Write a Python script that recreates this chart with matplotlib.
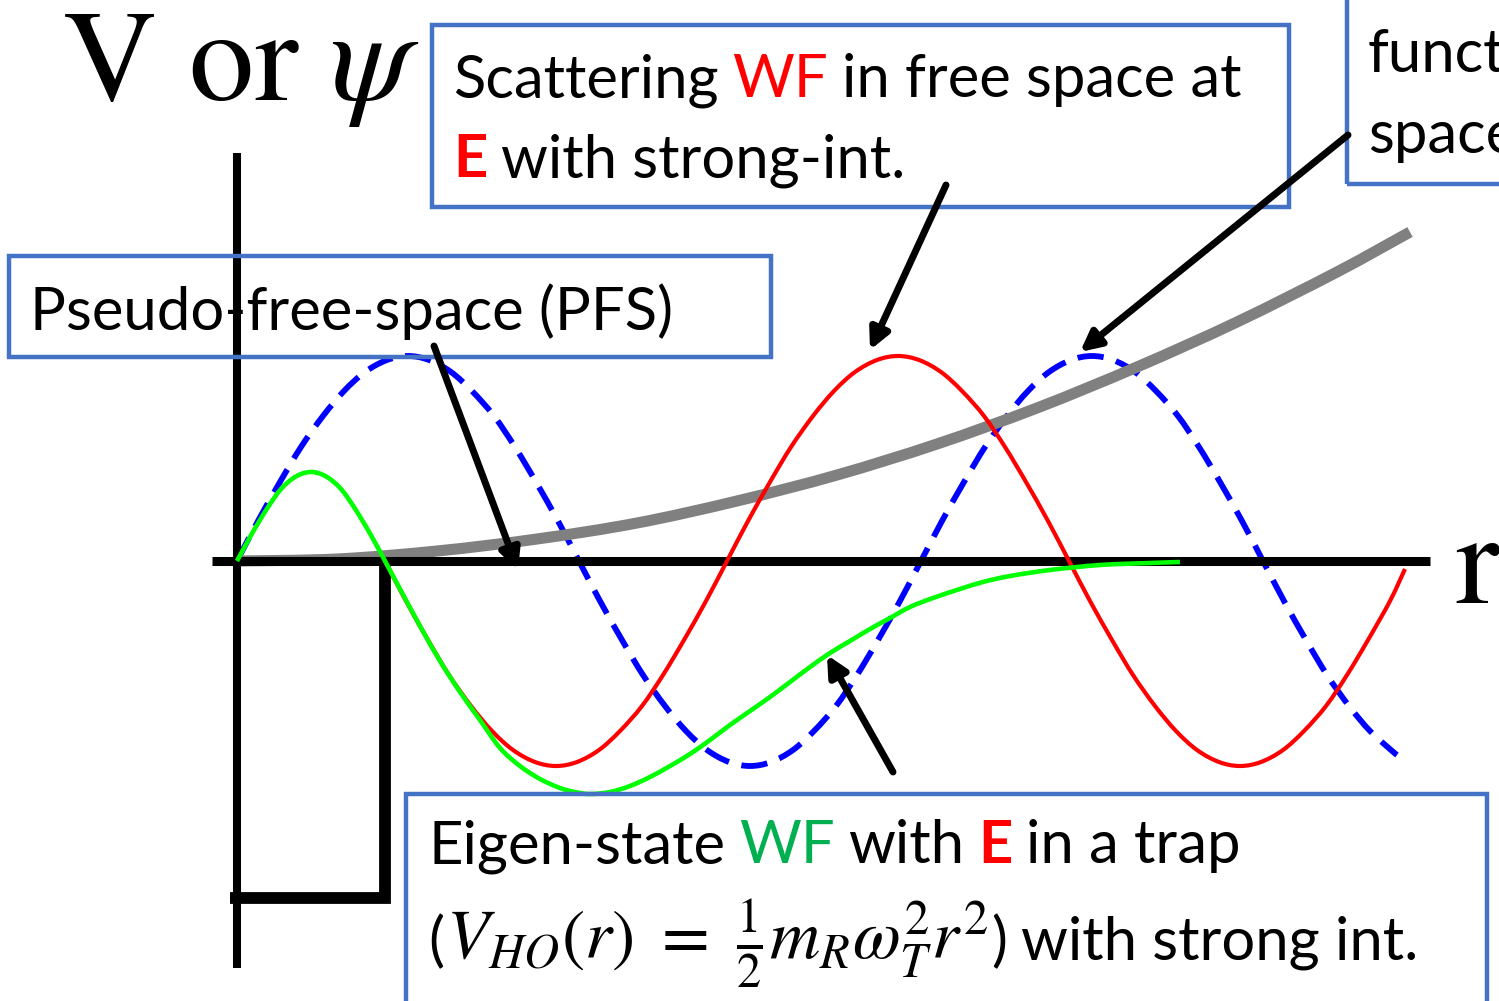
import numpy as np
import matplotlib
matplotlib.use("Agg")
import matplotlib.pyplot as plt
from matplotlib.patches import Rectangle, PathPatch
from matplotlib.path import Path

plt.rcParams["mathtext.fontset"] = "stix"
SANS = ["Lato", "DejaVu Sans"]

# harmonic trap V_HO(r) (grey)
R_HO = [0.0, 1.0, 2.0, 3.0, 4.0, 5.0, 6.0, 7.0, 8.0, 9.0, 10.0, 11.0, 11.73]
V_HO = [0.0, 0.02, 0.10, 0.22, 0.38, 0.60, 0.86, 1.17, 1.53, 1.94, 2.39, 2.89, 3.29]

# short-range square well
R_SQ = [-0.07, 1.48, 1.48]
V_SQ = [-3.37, -3.37, 0.0]

# free wave function (blue dashed)
R_FREE = [0.0, 0.21, 0.43, 0.64, 0.86, 1.07, 1.28, 1.50, 1.71, 1.92, 2.14, 2.35, 2.57,
          2.78, 2.99, 3.21, 3.42, 3.63, 3.85, 4.06, 4.28, 4.49, 4.70, 4.92, 5.13, 5.34,
          5.56, 5.77, 5.99, 6.20, 6.41, 6.63, 6.84, 7.05, 7.27, 7.48, 7.70, 7.91, 8.12,
          8.34, 8.55, 8.76, 8.98, 9.19, 9.41, 9.62, 9.83, 10.05, 10.26, 10.47, 10.69,
          10.90, 11.12, 11.33, 11.54, 11.60]
PSI_FREE = [0.0, 0.40, 0.79, 1.14, 1.45, 1.70, 1.89, 2.01, 2.05, 2.01, 1.89, 1.70, 1.45,
            1.14, 0.79, 0.40, 0.0, -0.40, -0.79, -1.14, -1.45, -1.70, -1.89, -2.01, -2.05,
            -2.01, -1.89, -1.70, -1.45, -1.14, -0.79, -0.40, 0.0, 0.40, 0.79, 1.14, 1.45,
            1.70, 1.89, 2.01, 2.05, 2.01, 1.89, 1.70, 1.45, 1.14, 0.79, 0.40, 0.0, -0.40,
            -0.79, -1.14, -1.45, -1.70, -1.89, -1.94]

# scattering wave function with strong interaction (red)
R_SCAT = [1.48, 1.69, 1.91, 2.12, 2.34, 2.55, 2.76, 2.98, 3.19, 3.40, 3.62, 3.83, 4.05,
          4.26, 4.47, 4.69, 4.90, 5.11, 5.33, 5.54, 5.76, 5.97, 6.18, 6.40, 6.61, 6.82,
          7.04, 7.25, 7.47, 7.68, 7.89, 8.11, 8.32, 8.53, 8.75, 8.96, 9.18, 9.39, 9.60,
          9.82, 10.03, 10.24, 10.46, 10.67, 10.89, 11.10, 11.31, 11.53, 11.68]
PSI_SCAT = [0.0, -0.40, -0.79, -1.14, -1.45, -1.70, -1.89, -2.01, -2.05, -2.01, -1.89,
            -1.70, -1.45, -1.14, -0.79, -0.40, 0.0, 0.40, 0.79, 1.14, 1.45, 1.70, 1.89,
            2.01, 2.05, 2.01, 1.89, 1.70, 1.45, 1.14, 0.79, 0.40, 0.0, -0.40, -0.79,
            -1.14, -1.45, -1.70, -1.89, -2.01, -2.05, -2.01, -1.89, -1.70, -1.45, -1.14,
            -0.79, -0.40, -0.08]

# eigen-state in the trap (green)
R_EIG = [0.0, 0.15, 0.30, 0.44, 0.59, 0.74, 0.89, 1.04, 1.18, 1.33, 1.48, 1.63, 1.83,
         2.03, 2.23, 2.43, 2.63, 2.83, 3.03, 3.23, 3.38, 3.53, 3.73, 3.93, 4.13, 4.33,
         4.53, 4.73, 4.93, 5.13, 5.33, 5.53, 5.73, 5.93, 6.13, 6.33, 6.53, 6.73, 6.96,
         7.23, 7.46, 7.73, 8.13, 8.63, 9.13, 9.43]
PSI_EIG = [0.0, 0.275, 0.523, 0.720, 0.846, 0.89, 0.846, 0.720, 0.523, 0.275, 0.0, -0.28,
           -0.65, -1.00, -1.31, -1.59, -1.87, -2.05, -2.18, -2.27, -2.31, -2.33, -2.31,
           -2.25, -2.16, -2.05, -1.93, -1.79, -1.64, -1.50, -1.36, -1.21, -1.06, -0.92,
           -0.80, -0.68, -0.57, -0.46, -0.37, -0.28, -0.21, -0.15, -0.09, -0.04, -0.02,
           -0.01]

BOX_BLUE = "#4472C4"


def smooth_path(xs, ys):
    """Catmull-Rom curve through the points, as cubic Bezier segments."""
    p = np.column_stack([xs, ys]).astype(float)
    verts, codes = [p[0]], [Path.MOVETO]
    for i in range(len(p) - 1):
        p0 = p[max(i - 1, 0)]; p1 = p[i]; p2 = p[i + 1]; p3 = p[min(i + 2, len(p) - 1)]
        verts += [p1 + (p2 - p0) / 6, p2 - (p3 - p1) / 6, p2]
        codes += [Path.CURVE4] * 3
    return Path(verts, codes)


def curve(xs, ys, **kw):
    ax.add_patch(PathPatch(smooth_path(xs, ys), fill=False, **kw))


fig = plt.figure(figsize=(14.99, 10.01), dpi=100)
ax = fig.add_axes([0, 0, 1, 1])
ax.set_xlim(-2.37, 12.62)
ax.set_ylim(-4.40, 5.61)
ax.axis("off")

# axes of the sketch
ax.plot([-0.25, 11.93], [0, 0], color="black", lw=6.5, solid_capstyle="butt", zorder=4)
ax.plot([0, 0], [-4.07, 4.08], color="black", lw=5.8, solid_capstyle="butt", zorder=4)
ax.plot(R_SQ, V_SQ, color="black", lw=8.5, solid_capstyle="butt",
        solid_joinstyle="miter", zorder=4)

curve(R_FREE, PSI_FREE, ec="#0000FF", lw=4.2, ls=(0, (4.5, 2.2)), capstyle="butt", zorder=2)
curve(R_HO, V_HO, ec="#808080", lw=8.0, capstyle="butt", zorder=3)
curve(R_SCAT, PSI_SCAT, ec="#FF0000", lw=3.0, zorder=5)
curve(R_EIG, PSI_EIG, ec="#00FF00", lw=3.3, zorder=6)

# annotation arrows (tail, tip)
arrows = [((1.97, 2.15), (2.81, -0.09)),
          ((7.09, 3.76), (6.33, 2.11)),
          ((11.11, 4.26), (8.43, 2.09)),
          ((6.56, -2.11), (5.90, -0.94))]
for tail, tip in arrows:
    ax.annotate("", xy=tip, xytext=tail, zorder=9,
                arrowprops=dict(arrowstyle="-|>", lw=5, color="black",
                                mutation_scale=30, shrinkA=0, shrinkB=0))

# label boxes
for x0, y0, x1, y1 in [(1.95, 3.54, 10.52, 5.36), (11.10, 3.77, 12.90, 5.80),
                       (-2.28, 2.04, 5.34, 3.05), (1.69, -4.60, 12.50, -2.33)]:
    ax.add_patch(Rectangle((x0, y0), x1 - x0, y1 - y0, fill=False, ec=BOX_BLUE,
                           lw=3.2, zorder=8, clip_on=True))

renderer = fig.canvas.get_renderer()
inv = ax.transData.inverted()
FS = 43


def text_w(s):
    t = ax.text(0, 0, s, fontsize=FS, family=SANS)
    bb = t.get_window_extent(renderer).transformed(inv)
    t.remove()
    return bb.x1 - bb.x0


SPACE = 0.9 * (text_w("x x") - text_w("xx"))


def put_line(x, y, pieces):
    for txt, color, weight, *extra in pieces:
        size = extra[0] if extra else FS
        gap = extra[1] if len(extra) > 1 else SPACE
        t = ax.text(x, y, txt, fontsize=size, family=SANS, color=color,
                    fontweight=weight, va="baseline", ha="left", zorder=10)
        bb = t.get_window_extent(renderer).transformed(inv)
        x = bb.x1 + gap


K = "black"
put_line(2.16, 4.64, [("Scattering", K, "normal"), ("WF", "#FF0000", "normal"),
                      ("in free space at", K, "normal")])
put_line(2.16, 3.84, [("E", "#FF0000", "bold"), ("with strong-int.", K, "normal")])
put_line(-2.07, 2.31, [("Pseudo-free-space (PFS)", K, "normal")])
put_line(1.91, -3.02, [("Eigen-state", K, "normal"), ("WF", "#00B050", "normal"),
                       ("with", K, "normal"), ("E", "#FF0000", "bold"),
                       ("in a trap", K, "normal")])
put_line(1.91, -3.99, [("(", K, "normal", FS, 0.02),
                       (r"$V_{HO}(r)\ =\ \frac{1}{2}m_R\omega_T^2r^2$", K, "normal", 50, 0.03),
                       (")", K, "normal", FS, SPACE),
                       ("with strong int.", K, "normal")])
ax.text(11.31, 4.89, "function", fontsize=FS, family=SANS, va="baseline", zorder=10,
        clip_on=True)
ax.text(11.31, 4.08, "space", fontsize=FS, family=SANS, va="baseline", zorder=10,
        clip_on=True)

ax.text(-1.75, 4.61, r"V or $\psi$", fontsize=94, family="STIXGeneral",
        va="baseline", ha="left", zorder=10)
ax.text(12.18, -0.42, "r", fontsize=94, family="STIXGeneral",
        va="baseline", ha="left", zorder=10)

fig.savefig("out.png", dpi=100)
